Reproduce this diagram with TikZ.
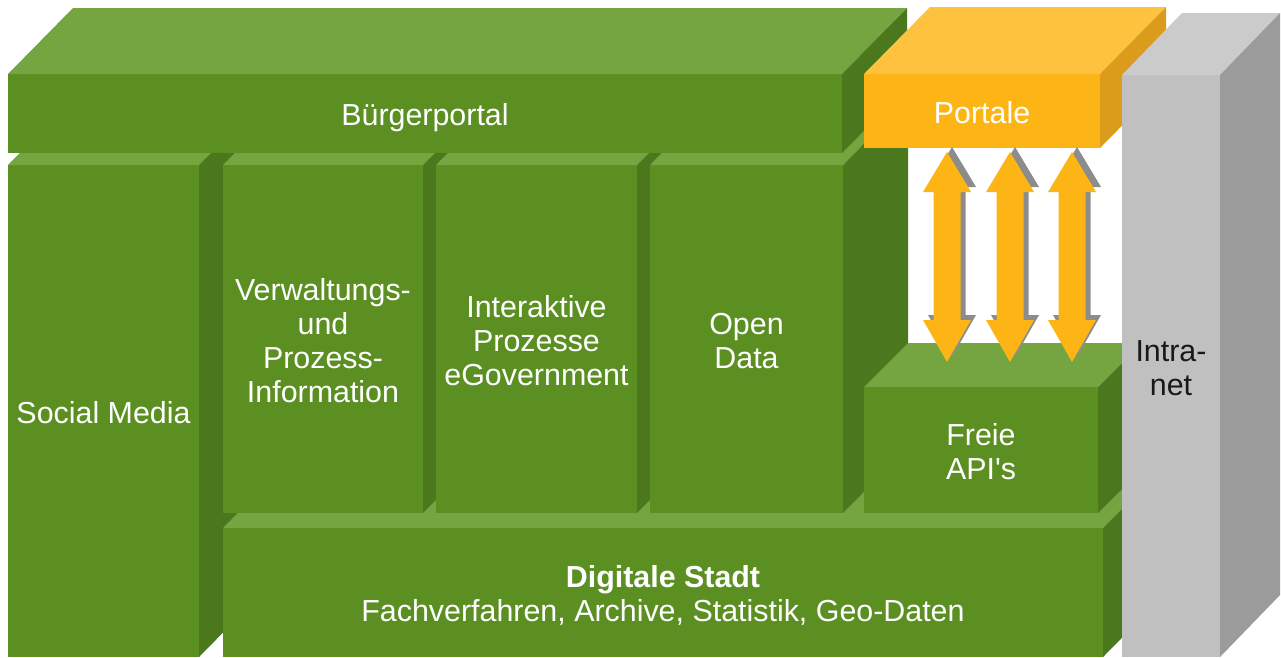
\documentclass[tikz,border=0pt]{standalone}
\usepackage{fontspec}
\setmainfont{Liberation Sans}
\usetikzlibrary{calc}

% colour sets: front / top / side of each kind of block
\definecolor{gFront}{HTML}{5B8F22}
\definecolor{gTop}{HTML}{75A541}
\definecolor{gSide}{HTML}{4B771D}
\definecolor{oFront}{HTML}{FDB515}
\definecolor{oTop}{HTML}{FEC23F}
\definecolor{oSide}{HTML}{DA9C1A}
\definecolor{sFront}{HTML}{C0C0C0}
\definecolor{sTop}{HTML}{CBCBCB}
\definecolor{sSide}{HTML}{9B9B9B}
\definecolor{arrowFill}{HTML}{FDB515}
\definecolor{arrowShade}{HTML}{8C8C8C}

\tikzset{
  face/.style={anchor=north west, inner sep=0pt, outer sep=0pt, text=white,
    align=center, font=\fontsize{30.4}{34}\selectfont},
  biarrow/.pic={
    \fill[arrowShade, shift={(5,-5)}] \arrowshape;
    \fill[arrowFill] \arrowshape;
  }
}

% double-headed block arrow around x = 0
\newcommand\arrowshape{(0,152) -- (24,192) -- (13.5,192) -- (13.5,320) -- (24,320)
  -- (0,362) -- (-24,320) -- (-13.5,320) -- (-13.5,192) -- (-24,192) -- cycle}

% #1 name, #2/#3 top-left of front face, #4/#5 bottom-right, #6/#7 depth offset,
% #8 colour set, #9 label
\newcommand\blockbox[9]{%
  \node[face, fill=#8Front, minimum width={(#4-#2)*1pt},
        minimum height={(#5-#3)*1pt}] (#1) at (#2,#3)
        {\raisebox{-5.5pt}[\height][\depth]{\begin{tabular}{@{}c@{}}#9\end{tabular}}};
  \fill[#8Top] (#1.north west) -- ++(#6,#7) -- ($(#1.north east)+(#6,#7)$)
    -- (#1.north east) -- cycle;
  \fill[#8Side] (#1.north east) -- ++(#6,#7) -- ($(#1.south east)+(#6,#7)$)
    -- (#1.south east) -- cycle;
}

\begin{document}
\begin{tikzpicture}[x=1pt, y=-1pt]
  \fill[white] (0,0) rectangle (1281,657);
  \useasboundingbox (0,0) rectangle (1281,657);

  % lower tier, back to front
  \blockbox{social}{8}{165}{199}{657}{65}{-66}{g}{Social Media}
  \blockbox{stadt}{223}{528}{1103}{657}{65}{-66}{g}{\textbf{Digitale Stadt}\\Fachverfahren, Archive, Statistik, Geo-Daten}
  \blockbox{verwaltung}{223}{165}{423}{513}{65}{-66}{g}{Verwaltungs-\\und\\Prozess-\\Information}
  \blockbox{prozesse}{436}{165}{637}{513}{65}{-66}{g}{Interaktive\\Prozesse\\eGovernment}
  \blockbox{opendata}{650}{165}{843}{513}{65}{-66}{g}{Open\\Data}

  % top slab
  \blockbox{buerger}{8}{74}{842}{153}{65}{-66}{g}{Bürgerportal}

  % right column
  \blockbox{api}{864}{387}{1098}{513}{44}{-44}{g}{Freie\\API\textquotesingle s}
  \blockbox{portale}{864}{74}{1100}{148}{66}{-67}{o}{Portale}

  % exchange between Portale and Freie API's
  \pic (link1) at (947,0) {biarrow};
  \pic (link2) at (1010,0) {biarrow};
  \pic (link3) at (1072,0) {biarrow};

  % intranet pillar
  \blockbox{intranet}{1122}{75}{1220}{657}{60}{-62}{s}{\color{black!90}Intra-\\\color{black!90}net}
\end{tikzpicture}
\end{document}
